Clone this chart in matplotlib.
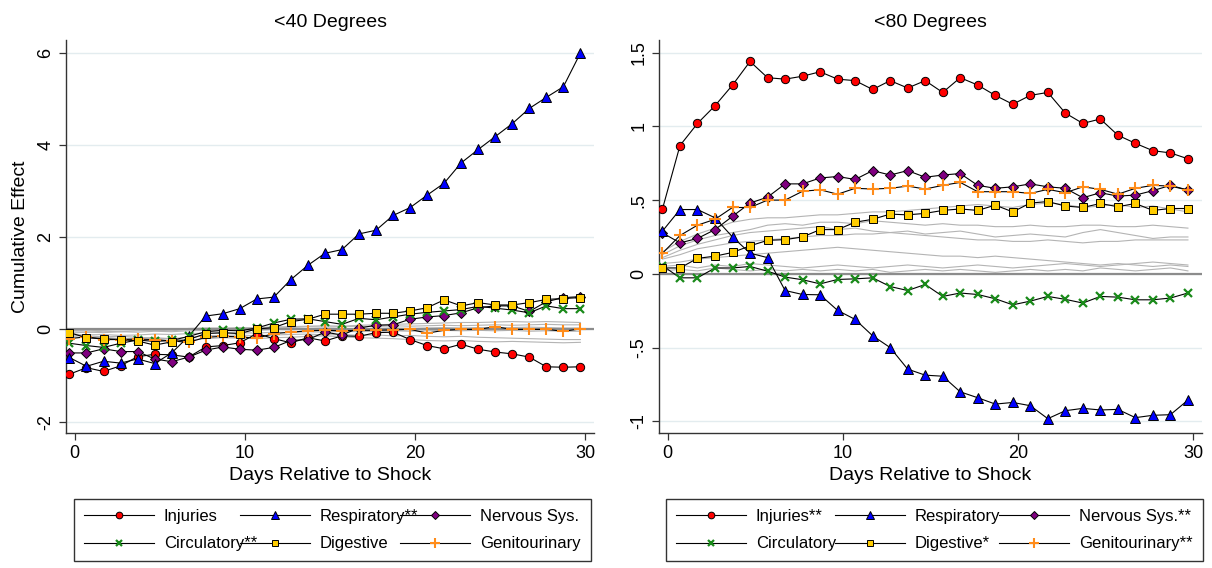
import numpy as np
import matplotlib
matplotlib.use("Agg")
import matplotlib.pyplot as plt
from matplotlib.lines import Line2D

plt.rcParams['font.family'] = ['Liberation Sans', 'DejaVu Sans']

# day index of each estimate (markers sit slightly left of the integer ticks)
days = np.arange(31) - 0.3

names = ["Injuries", "Respiratory", "Nervous Sys.", "Circulatory", "Digestive", "Genitourinary"]
labels_40 = ["Injuries", "Respiratory**", "Nervous Sys.", "Circulatory**", "Digestive", "Genitourinary"]
labels_80 = ["Injuries**", "Respiratory", "Nervous Sys.**", "Circulatory", "Digestive*", "Genitourinary**"]

# ---- <40 degrees ----
injuries_40 = [-0.97, -0.83, -0.91, -0.79, -0.59, -0.54, -0.55, -0.60, -0.38, -0.35, -0.29,
               -0.09, -0.20, -0.29, -0.18, -0.25, -0.14, -0.15, -0.07, -0.06, -0.22,
               -0.35, -0.42, -0.32, -0.43, -0.49, -0.53, -0.60, -0.81, -0.82, -0.81]
respiratory_40 = [-0.61, -0.80, -0.69, -0.73, -0.64, -0.74, -0.51, -0.15, 0.29, 0.34, 0.45,
                  0.66, 0.70, 1.08, 1.39, 1.65, 1.73, 2.07, 2.15, 2.47, 2.64,
                  2.91, 3.17, 3.61, 3.90, 4.18, 4.46, 4.79, 5.03, 5.26, 5.99]
nervous_40 = [-0.51, -0.51, -0.42, -0.48, -0.48, -0.64, -0.70, -0.60, -0.45, -0.38, -0.43,
              -0.45, -0.39, -0.24, -0.22, -0.06, -0.12, 0.03, 0.09, 0.10, 0.22,
              0.27, 0.30, 0.36, 0.47, 0.51, 0.51, 0.39, 0.60, 0.69, 0.71]
circulatory_40 = [-0.30, -0.35, -0.39, -0.30, -0.23, -0.26, -0.24, -0.15, -0.05, -0.02, -0.03,
                  0.03, 0.14, 0.22, 0.23, 0.17, 0.11, 0.24, 0.21, 0.27, 0.33,
                  0.37, 0.40, 0.43, 0.50, 0.46, 0.42, 0.36, 0.51, 0.45, 0.45]
digestive_40 = [-0.07, -0.18, -0.20, -0.22, -0.25, -0.34, -0.27, -0.22, -0.09, -0.07, -0.09,
                0.01, 0.04, 0.17, 0.22, 0.33, 0.33, 0.33, 0.35, 0.35, 0.40,
                0.47, 0.64, 0.51, 0.58, 0.53, 0.53, 0.58, 0.65, 0.67, 0.69]
genito_40 = [-0.20, -0.16, -0.22, -0.22, -0.21, -0.22, -0.25, -0.28, -0.17, -0.15, -0.16,
             -0.19, -0.09, -0.06, -0.03, -0.02, -0.03, -0.02, -0.02, -0.01, 0.00,
             -0.08, -0.02, 0.00, 0.00, 0.06, 0.00, 0.00, 0.00, -0.04, 0.01]

# other (unlabelled) categories, grey
others_40 = [
    [-0.05, -0.06, -0.04, -0.05, -0.03, -0.02, -0.03, 0.00, 0.02, 0.03, 0.02, 0.04, 0.05, 0.06, 0.07, 0.08,
     0.07, 0.09, 0.10, 0.11, 0.12, 0.13, 0.14, 0.15, 0.15, 0.16, 0.17, 0.16, 0.17, 0.16, 0.15],
    [-0.02, -0.03, -0.02, 0.00, -0.01, 0.01, 0.00, 0.02, 0.03, 0.02, 0.04, 0.03, 0.05, 0.04, 0.06, 0.05,
     0.06, 0.07, 0.06, 0.08, 0.07, 0.08, 0.09, 0.08, 0.09, 0.10, 0.09, 0.10, 0.11, 0.10, 0.10],
    [-0.08, -0.06, -0.07, -0.05, -0.06, -0.04, -0.05, -0.03, -0.02, -0.03, -0.01, -0.02, 0.00, -0.01, 0.01, 0.00,
     0.02, 0.01, 0.02, 0.03, 0.02, 0.03, 0.04, 0.03, 0.04, 0.03, 0.04, 0.05, 0.04, 0.03, 0.03],
    [-0.10, -0.12, -0.11, -0.13, -0.12, -0.10, -0.11, -0.09, -0.08, -0.09, -0.07, -0.08, -0.06, -0.07, -0.05, -0.06,
     -0.04, -0.05, -0.04, -0.03, -0.04, -0.03, -0.02, -0.03, -0.02, -0.03, -0.02, -0.04, -0.03, -0.04, -0.04],
    [-0.15, -0.18, -0.17, -0.20, -0.19, -0.18, -0.20, -0.17, -0.14, -0.13, -0.12, -0.14, -0.12, -0.11, -0.10, -0.12,
     -0.11, -0.13, -0.12, -0.14, -0.13, -0.15, -0.16, -0.15, -0.17, -0.18, -0.19, -0.20, -0.21, -0.22, -0.22],
    [-0.12, -0.14, -0.16, -0.15, -0.17, -0.19, -0.21, -0.23, -0.20, -0.18, -0.19, -0.20, -0.18, -0.17, -0.15, -0.14,
     -0.16, -0.18, -0.19, -0.20, -0.22, -0.24, -0.25, -0.24, -0.26, -0.27, -0.26, -0.27, -0.28, -0.29, -0.28],
    [0.00, -0.01, 0.01, -0.01, 0.00, -0.02, -0.01, 0.00, 0.01, 0.00, 0.01, 0.00, 0.02, 0.01, 0.02, 0.01,
     0.00, 0.01, 0.02, 0.01, 0.00, 0.01, 0.02, 0.01, 0.02, 0.01, 0.00, 0.01, 0.02, 0.01, 0.01],
]

# ---- <80 degrees ----
injuries_80 = [0.44, 0.87, 1.02, 1.14, 1.28, 1.44, 1.33, 1.32, 1.34, 1.37, 1.32,
               1.31, 1.25, 1.31, 1.26, 1.31, 1.23, 1.33, 1.28, 1.21, 1.15,
               1.21, 1.23, 1.09, 1.02, 1.05, 0.94, 0.885, 0.835, 0.82, 0.78]
respiratory_80 = [0.29, 0.436, 0.436, 0.38, 0.25, 0.14, 0.11, -0.113, -0.14, -0.142, -0.248,
                  -0.309, -0.42, -0.50, -0.646, -0.687, -0.694, -0.80, -0.84, -0.883, -0.872,
                  -0.894, -0.982, -0.928, -0.912, -0.923, -0.919, -0.975, -0.959, -0.955, -0.856]
nervous_80 = [0.278, 0.21, 0.24, 0.30, 0.39, 0.48, 0.52, 0.61, 0.61, 0.65, 0.66,
              0.64, 0.70, 0.67, 0.70, 0.655, 0.67, 0.68, 0.60, 0.58, 0.59,
              0.61, 0.59, 0.58, 0.516, 0.55, 0.527, 0.534, 0.564, 0.60, 0.568]
circulatory_80 = [0.056, -0.027, -0.027, 0.04, 0.04, 0.05, 0.018, -0.022, -0.04, -0.068, -0.038,
                  -0.034, -0.027, -0.086, -0.113, -0.072, -0.153, -0.13, -0.14, -0.169, -0.21,
                  -0.185, -0.153, -0.173, -0.198, -0.153, -0.158, -0.176, -0.176, -0.164, -0.13]
digestive_80 = [0.04, 0.04, 0.105, 0.12, 0.145, 0.19, 0.227, 0.232, 0.25, 0.30, 0.30,
                0.35, 0.37, 0.405, 0.40, 0.41, 0.43, 0.44, 0.43, 0.466, 0.42,
                0.48, 0.49, 0.46, 0.45, 0.477, 0.455, 0.477, 0.43, 0.443, 0.443]
genito_80 = [0.14, 0.26, 0.33, 0.37, 0.45, 0.45, 0.50, 0.50, 0.56, 0.57, 0.54,
             0.58, 0.575, 0.58, 0.595, 0.575, 0.60, 0.62, 0.557, 0.557, 0.557,
             0.545, 0.573, 0.55, 0.59, 0.573, 0.54, 0.58, 0.60, 0.595, 0.568]

others_80 = [
    [0.15, 0.22, 0.27, 0.31, 0.35, 0.37, 0.38, 0.38, 0.39, 0.40, 0.40, 0.41, 0.42, 0.42, 0.43, 0.44,
     0.45, 0.46, 0.47, 0.46, 0.45, 0.47, 0.48, 0.47, 0.45, 0.46, 0.47, 0.45, 0.46, 0.44, 0.42],
    [0.13, 0.19, 0.23, 0.26, 0.28, 0.30, 0.33, 0.34, 0.33, 0.35, 0.35, 0.34, 0.36, 0.35, 0.34, 0.33,
     0.34, 0.33, 0.33, 0.32, 0.32, 0.33, 0.32, 0.32, 0.33, 0.33, 0.32, 0.32, 0.33, 0.32, 0.31],
    [0.11, 0.16, 0.20, 0.23, 0.26, 0.28, 0.29, 0.30, 0.31, 0.32, 0.30, 0.31, 0.29, 0.28, 0.29, 0.27,
     0.28, 0.29, 0.27, 0.25, 0.26, 0.27, 0.26, 0.25, 0.28, 0.30, 0.28, 0.26, 0.24, 0.25, 0.25],
    [0.10, 0.13, 0.17, 0.19, 0.21, 0.22, 0.23, 0.24, 0.25, 0.26, 0.26, 0.27, 0.27, 0.28, 0.27, 0.26,
     0.25, 0.24, 0.23, 0.23, 0.22, 0.22, 0.23, 0.22, 0.21, 0.22, 0.22, 0.23, 0.23, 0.23, 0.23],
    [0.07, 0.08, 0.10, 0.11, 0.12, 0.13, 0.14, 0.15, 0.16, 0.17, 0.18, 0.17, 0.16, 0.15, 0.14, 0.13,
     0.12, 0.12, 0.11, 0.12, 0.11, 0.10, 0.09, 0.08, 0.07, 0.06, 0.07, 0.06, 0.05, 0.06, 0.05],
    [0.05, 0.06, 0.04, 0.06, 0.05, 0.07, 0.06, 0.05, 0.04, 0.05, 0.06, 0.05, 0.04, 0.05, 0.06, 0.05,
     0.04, 0.05, 0.06, 0.05, 0.04, 0.05, 0.06, 0.07, 0.06, 0.05, 0.06, 0.07, 0.08, 0.07, 0.06],
    [0.02, 0.03, 0.02, 0.04, 0.03, 0.02, 0.03, 0.02, 0.03, 0.02, 0.03, 0.02, 0.03, 0.01, 0.02, 0.03,
     0.02, 0.03, 0.02, 0.01, 0.02, 0.03, 0.02, 0.03, 0.02, 0.04, 0.03, 0.02, 0.03, 0.04, 0.02],
]

yticks_40 = [-2, 0, 2, 4, 6]
yticklabels_40 = ["-2", "0", "2", "4", "6"]
yticks_80 = [-1, -0.5, 0, 0.5, 1, 1.5]
yticklabels_80 = ["-1", "-.5", "0", ".5", "1", "1.5"]
xticks = [0, 10, 20, 30]

# marker styles, Stata-like
styles = {
    "Injuries":      dict(marker='o', mfc='#ff0000', mec='black', ms=6, mew=0.7),
    "Respiratory":   dict(marker='^', mfc='#0000ff', mec='black', ms=6.5, mew=0.7),
    "Nervous Sys.":  dict(marker='D', mfc='#800080', mec='black', ms=5.5, mew=0.7),
    "Circulatory":   dict(marker='x', mfc='#1a8a1a', mec='#1a8a1a', ms=6, mew=1.6),
    "Digestive":     dict(marker='s', mfc='#ffcc00', mec='black', ms=6, mew=0.7),
    "Genitourinary": dict(marker='+', mfc='#ff8c1a', mec='#ff8c1a', ms=9, mew=1.5),
}
draw_order = ["Injuries", "Nervous Sys.", "Respiratory", "Circulatory", "Genitourinary", "Digestive"]


def panel(ax, title, data, others, yticks, yticklabels, ylim, labels, legend_box, ylabel=None):
    for yt in yticks:
        ax.axhline(yt, color='#e3ecef', lw=1.0, zorder=0)
    for g in others:
        ax.plot(days, g, color='#b4b4b4', lw=0.8, zorder=1)
    ax.axhline(0, color='#8c8c8c', lw=1.6, zorder=1.5)
    for name in draw_order:
        ax.plot(days, data[name], color='black', lw=0.8, zorder=3, **styles[name])

    ax.set_xlim(-0.5, 30.5)
    ax.set_ylim(*ylim)
    ax.set_xticks(xticks)
    ax.set_yticks(yticks)
    ax.set_yticklabels(yticklabels)
    ax.tick_params(axis='both', labelsize=13, length=5, width=0.9, direction='out', color='#333333')
    ax.tick_params(axis='y', labelrotation=90)
    for lab in ax.get_yticklabels():
        lab.set_verticalalignment('center')
    for s in ['top', 'right']:
        ax.spines[s].set_visible(False)
    for s in ['left', 'bottom']:
        ax.spines[s].set_color('#333333')
        ax.spines[s].set_linewidth(1.0)
    ax.set_title(title, fontsize=14, pad=9)
    ax.set_xlabel("Days Relative to Shock", fontsize=14, labelpad=4)
    if ylabel:
        ax.set_ylabel(ylabel, fontsize=14, labelpad=6)

    # legend entries row-wise: reorder for column-wise fill of matplotlib
    order = [0, 3, 1, 4, 2, 5]
    handles = [Line2D([], [], color='black', lw=0.8,
                      **{k: v for k, v in styles[names[i]].items() if k != 'ms'},
                      ms=styles[names[i]]['ms'] * 0.8) for i in order]
    leg = ax.legend(handles, [labels[i] for i in order], ncol=3, loc='upper left',
                    bbox_to_anchor=legend_box, bbox_transform=ax.figure.transFigure,
                    mode='expand', fontsize=12, frameon=True, fancybox=False,
                    edgecolor='black', handlelength=4.2, handletextpad=0.6,
                    columnspacing=0.3, labelspacing=0.75, borderpad=0.6, borderaxespad=0)
    leg.get_frame().set_linewidth(1.0)


fig = plt.figure(figsize=(12.12, 5.68), dpi=100)
ax1 = fig.add_axes([0.0545, 0.2377, 0.4356, 0.692])
ax2 = fig.add_axes([0.5437, 0.2377, 0.4480, 0.692])

data_40 = dict(zip(names, [injuries_40, respiratory_40, nervous_40, circulatory_40, digestive_40, genito_40]))
data_80 = dict(zip(names, [injuries_80, respiratory_80, nervous_80, circulatory_80, digestive_80, genito_80]))

panel(ax1, "<40 Degrees", data_40, others_40, yticks_40, yticklabels_40, (-2.245, 6.275),
      labels_40, (0.061, 0.0, 0.4266, 0.1215), ylabel="Cumulative Effect")
panel(ax2, "<80 Degrees", data_80, others_80, yticks_80, yticklabels_80, (-1.079, 1.586),
      labels_80, (0.5495, 0.0, 0.443, 0.1215))

fig.savefig("out.png", dpi=100, facecolor='white')
